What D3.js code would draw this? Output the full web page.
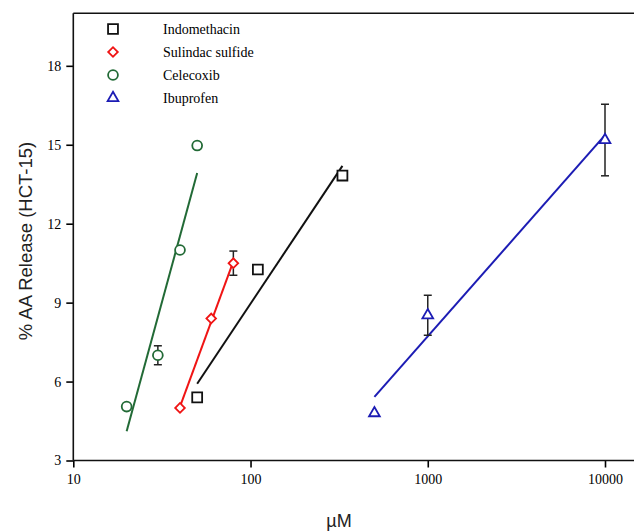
<!DOCTYPE html>
<html>
<head>
<meta charset="utf-8">
<script src="https://cdn.jsdelivr.net/npm/d3@7/dist/d3.min.js"></script>
<style>
  html, body { margin: 0; padding: 0; background: #fff; }
  svg { display: block; }
</style>
</head>
<body>
<svg id="chart" width="634" height="531"></svg>
<script>
// ---- data ----
const seriesNames = ["Indomethacin", "Sulindac sulfide", "Celecoxib", "Ibuprofen"];
const seriesColors = ["#111111", "#f01414", "#226a36", "#1c1cb4"];

const indoX = [50, 110, 330];
const indoY = [5.4, 10.26, 13.83];
const indoErr = [0, 0, 0];

const sulX = [40, 60, 80];
const sulY = [5.0, 8.4, 10.5];
const sulErr = [0, 0, 0.46];

const celX = [20, 30, 40, 50];
const celY = [5.05, 7.0, 11.0, 14.97];
const celErr = [0, 0.36, 0, 0];

const ibuX = [500, 1000, 10000];
const ibuY = [4.8, 8.52, 15.18];
const ibuErr = [0, 0.76, 1.36];

const xTicks = [10, 100, 1000, 10000];
const yTicks = [3, 6, 9, 12, 15, 18];

const xLabel = "µM";
const yLabel = "% AA Release (HCT-15)";

// ---- layout ----
const W = 634, H = 531;
const svg = d3.select("#chart");
const x = d3.scaleLog().domain([10, 10000]).range([73.3, 605]);
const y = d3.scaleLinear().domain([3, 20]).range([460.5, 13.2]);

const serifFont = "'Liberation Serif', 'Times New Roman', serif";
const sansFont = "'Liberation Sans', Arial, sans-serif";

// symbols
const symSquare = d3.symbol().type(d3.symbolSquare).size(98);
const symDiamond = d3.symbol().type(d3.symbolSquare).size(46);
const symCircle = d3.symbol().type(d3.symbolCircle).size(76);
const symTriangle = d3.symbol().type(d3.symbolTriangle).size(50);
const symbols = [
  { path: symSquare(), rot: 0 },
  { path: symDiamond(), rot: 45 },
  { path: symCircle(), rot: 0 },
  { path: symTriangle(), rot: 0 }
];

const series = [
  { xs: indoX, ys: indoY, err: indoErr },
  { xs: sulX, ys: sulY, err: sulErr },
  { xs: celX, ys: celY, err: celErr },
  { xs: ibuX, ys: ibuY, err: ibuErr }
];

// ---- axes ----
const xAxis = d3.axisBottom(x).tickValues(xTicks).tickFormat(d3.format("d"))
  .tickSize(7).tickSizeOuter(0).tickPadding(7);
const gx = svg.append("g").attr("transform", `translate(0,${y(3)})`).call(xAxis);
gx.select(".domain").remove();

const yAxis = d3.axisLeft(y).tickValues(yTicks).tickFormat(d3.format("d"))
  .tickSize(7).tickSizeOuter(0).tickPadding(5);
const gy = svg.append("g").attr("transform", `translate(${x(10)},0)`).call(yAxis);
gy.select(".domain").remove();

[gx, gy].forEach(g => {
  g.selectAll("text").attr("font-family", serifFont).attr("font-size", 14).attr("fill", "#000");
  g.selectAll(".tick line").attr("stroke", "#000").attr("stroke-width", 1.6);
});

// frame lines: left axis, bottom axis, top border
const frame = svg.append("g").attr("stroke", "#111").attr("stroke-width", 1.6).attr("fill", "none");
frame.append("line").attr("x1", x(10)).attr("x2", x(10)).attr("y1", y(20)).attr("y2", y(3));
frame.append("line").attr("x1", x(10)).attr("x2", W).attr("y1", y(3)).attr("y2", y(3));
frame.append("line").attr("x1", x(10)).attr("x2", W).attr("y1", y(20)).attr("y2", y(20));

// axis titles
svg.append("text")
  .attr("x", 339).attr("y", 527)
  .attr("text-anchor", "middle")
  .attr("font-family", sansFont).attr("font-size", 18).attr("fill", "#222")
  .text(xLabel);

svg.append("text")
  .attr("transform", "translate(32,241) rotate(-90)")
  .attr("text-anchor", "middle")
  .attr("font-family", sansFont).attr("font-size", 18.5).attr("fill", "#222")
  .text(yLabel);

// ---- regression lines (least squares on log10 x) ----
function fitLine(xs, ys) {
  const lx = xs.map(Math.log10);
  const mx = d3.mean(lx), my = d3.mean(ys);
  let sxy = 0, sxx = 0;
  lx.forEach((v, i) => { sxy += (v - mx) * (ys[i] - my); sxx += (v - mx) * (v - mx); });
  const b = sxy / sxx, a = my - b * mx;
  const x0 = d3.min(xs), x1 = d3.max(xs);
  return [[x0, a + b * Math.log10(x0)], [x1, a + b * Math.log10(x1)]];
}

const line = d3.line().x(d => x(d[0])).y(d => y(d[1]));
series.forEach((s, i) => {
  svg.append("path")
    .attr("d", line(fitLine(s.xs, s.ys)))
    .attr("fill", "none")
    .attr("stroke", seriesColors[i])
    .attr("stroke-width", 2);
});

// ---- error bars ----
series.forEach((s, i) => {
  s.xs.forEach((xv, j) => {
    const e = s.err[j];
    if (!e) return;
    const cx = x(xv), yt = y(s.ys[j] + e), yb = y(s.ys[j] - e);
    const g = svg.append("g").attr("stroke", "#222").attr("stroke-width", 1.5);
    g.append("line").attr("x1", cx).attr("x2", cx).attr("y1", yt).attr("y2", yb);
    g.append("line").attr("x1", cx - 4).attr("x2", cx + 4).attr("y1", yt).attr("y2", yt);
    g.append("line").attr("x1", cx - 4).attr("x2", cx + 4).attr("y1", yb).attr("y2", yb);
  });
});

// ---- markers ----
series.forEach((s, i) => {
  s.xs.forEach((xv, j) => {
    svg.append("path")
      .attr("d", symbols[i].path)
      .attr("transform", `translate(${x(xv)},${y(s.ys[j])}) rotate(${symbols[i].rot})`)
      .attr("fill", "#fff")
      .attr("stroke", seriesColors[i])
      .attr("stroke-width", 1.8);
  });
});

// ---- legend ----
const legY = [29, 52, 75, 98];
seriesNames.forEach((name, i) => {
  svg.append("path")
    .attr("d", symbols[i].path)
    .attr("transform", `translate(113,${legY[i]}) rotate(${symbols[i].rot})`)
    .attr("fill", "#fff")
    .attr("stroke", seriesColors[i])
    .attr("stroke-width", 1.8);
  svg.append("text")
    .attr("x", 163).attr("y", legY[i]).attr("dy", "0.35em")
    .attr("font-family", serifFont).attr("font-size", 14).attr("fill", "#000")
    .text(name);
});
</script>
</body>
</html>
